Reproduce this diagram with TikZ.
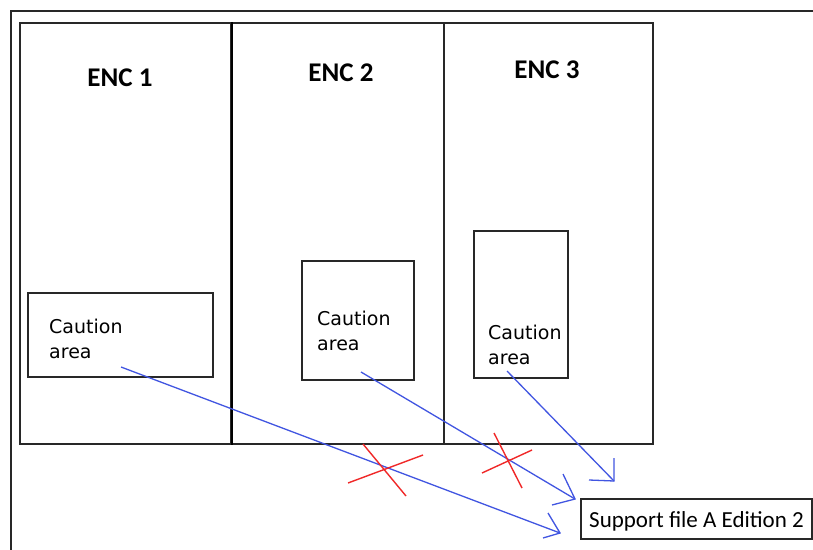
\documentclass[tikz,border=0pt]{standalone}
\usepackage{fontspec}
\newfontfamily\calib{Carlito}
\newfontfamily\verd{DejaVu Sans}
\definecolor{penblue}{RGB}{65,85,225}
\definecolor{penred}{RGB}{240,40,40}
\definecolor{edge}{RGB}{40,40,40}
\begin{document}
\begin{tikzpicture}[x=1pt,y=-1pt,
  frameline/.style={draw=edge,line width=2pt},
  encbox/.style={draw=edge,line width=1.8pt,inner sep=0pt,minimum height=421pt},
  divider/.style={draw=black,line width=2.8pt},
  enclabel/.style={font={\calib\bfseries\fontsize{27}{30}\selectfont},anchor=base,inner sep=0pt},
  cautionbox/.style={draw=edge,line width=1.6pt,inner sep=0pt},
  cautiontext/.style={font={\verd\fontsize{19}{25}\selectfont},align=left,anchor=north west,inner sep=0pt,text=black},
  supbox/.style={draw=edge,line width=1.6pt,inner sep=0pt,minimum width=231pt,minimum height=40pt,
    font={\calib\fontsize{23}{26}\selectfont},text height=17pt,text depth=0pt},
  pen/.style={draw=penblue,line width=1.3pt},
  cross/.style={draw=penred,line width=1.4pt}]
\useasboundingbox (0,0) rectangle (813,549);
\fill[white] (0,0) rectangle (813,549);
\clip (0,0) rectangle (813,549);
% outer frame (runs off the picture)
\draw[frameline] (10.5,570) -- (10.5,10.5) -- (830,10.5);
% enclosures
\node[encbox,minimum width=211pt] (enc1) at (125.5,233.5) {};
\node[encbox,minimum width=213pt] (enc2) at (337.5,233.5) {};
\node[encbox,minimum width=209pt] (enc3) at (548.5,233.5) {};
\draw[divider] (enc1.north east) -- (enc1.south east);
\node[enclabel] (l1) at (120,86) {ENC 1};
\node[enclabel] (l2) at (341,81) {ENC 2};
\node[enclabel] (l3) at (547,78) {ENC 3};
% caution areas
\node[cautionbox,minimum width=185pt,minimum height=84pt] (c1) at (120.5,335) {};
\node[cautionbox,minimum width=112pt,minimum height=119pt] (c2) at (358,320.5) {};
\node[cautionbox,minimum width=94pt,minimum height=147pt] (c3) at (521,304.5) {};
\node[cautiontext] (t1) at (49,318.5) {Caution\\area};
\node[cautiontext] (t2) at (317,310.5) {Caution\\area};
\node[cautiontext] (t3) at (488,324.5) {Caution\\area};
% support file
\node[supbox] (sup) at (696.5,519) {Support file A Edition 2};
% hand-drawn arrows
\coordinate (s1) at (121,367);
\coordinate (h1) at (560,533);
\coordinate (h1a) at (548,513);
\coordinate (h1b) at (543,538);
\coordinate (s2) at (361,372);
\coordinate (h2) at (575,499);
\coordinate (h2a) at (563,474);
\coordinate (h2b) at (552,505);
\coordinate (s3) at (507,371);
\coordinate (h3) at (614,481);
\coordinate (h3a) at (614,458);
\coordinate (h3b) at (589,480);
\draw[pen] (s1) -- (h1);
\draw[pen] (h1a) -- (h1) -- (h1b);
\draw[pen] (s2) -- (h2);
\draw[pen] (h2a) -- (h2) -- (h2b);
\draw[pen] (s3) -- (h3);
\draw[pen] (h3a) -- (h3) -- (h3b);
% red crosses
\coordinate (x1a) at (348,483);
\coordinate (x1b) at (423,455);
\coordinate (x1c) at (363,444);
\coordinate (x1d) at (406,496);
\coordinate (x2a) at (482,473);
\coordinate (x2b) at (532,450);
\coordinate (x2c) at (494,433);
\coordinate (x2d) at (522,488);
\draw[cross] (x1a) -- (x1b);
\draw[cross] (x1c) -- (x1d);
\draw[cross] (x2a) -- (x2b);
\draw[cross] (x2c) -- (x2d);
\end{tikzpicture}
\end{document}
